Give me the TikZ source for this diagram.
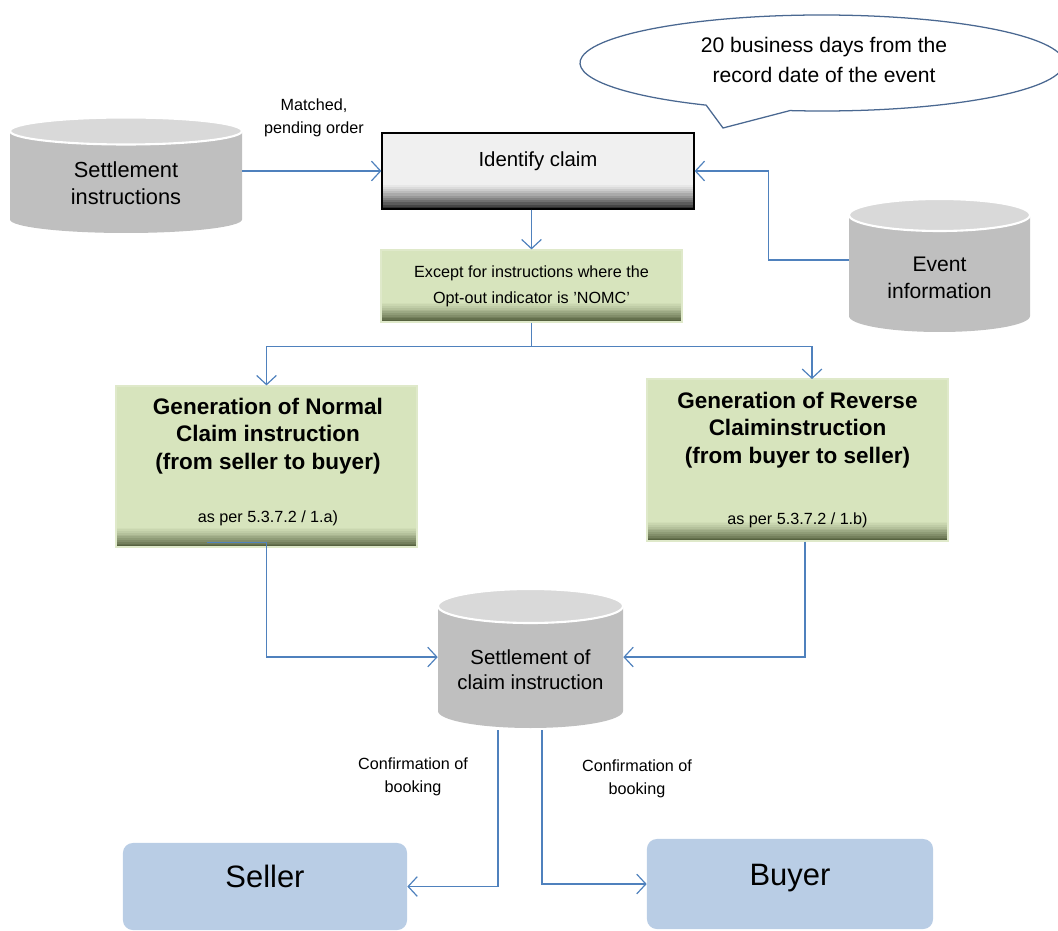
\documentclass[tikz,border=0pt]{standalone}
\usepackage{fontspec}
\setmainfont{Liberation Sans}
\usetikzlibrary{arrows.meta,calc}

\definecolor{flowblue}{HTML}{4F81BD}
\definecolor{drumgray}{HTML}{BFBFBF}
\definecolor{drumlight}{HTML}{D9D9D9}
\definecolor{claimgreen}{HTML}{D7E4BD}
\definecolor{claimdark}{HTML}{56623F}
\definecolor{idgray}{HTML}{F0F0F0}
\definecolor{iddark}{HTML}{2E2E2E}
\definecolor{partyblue}{HTML}{B9CDE5}
\definecolor{bubbleline}{HTML}{4A6891}

% cylinder: centre x, top y, bottom y, x radius, y radius
\newcommand{\drum}[5]{%
  \fill[drumgray] (#1-#4,#2) -- (#1-#4,#3) arc[start angle=180,end angle=0,x radius=#4,y radius=#5] -- (#1+#4,#2) -- cycle;
  \filldraw[fill=drumlight,draw=white,line width=1.5pt] (#1,#2) ellipse[x radius=#4,y radius=#5];
}
% dark band at the foot of a box: light colour, dark colour, band height
\newcommand{\bandshade}[3]{%
  \foreach \k in {0,...,11}{%
    \pgfmathsetmacro\mix{100-100*(\k/11)^1.3}%
    \fill[#1!\mix!#2] ([yshift={#3*(12-\k)/12}]path picture bounding box.south west) rectangle ([yshift={#3*(11-\k)/12-0.3pt}]path picture bounding box.south east);
  }}

\tikzset{
  flow/.style={draw=flowblue,line width=0.85pt,-{Straight Barb[length=6.5pt,width=14pt]}},
  link/.style={draw=flowblue,line width=0.85pt},
  drumtext/.style={inner sep=0pt,minimum height=2.2cm,align=center,font=\fontsize{15.5}{19}\selectfont},
  idbox/.style={fill=idgray,draw=black,line width=0.8pt,minimum width=7.8cm,minimum height=1.9cm,
    text height=10.5pt,text depth=17pt,font=\fontsize{14.5}{17}\selectfont,
    path picture={\bandshade{idgray}{iddark}{19pt}}},
  claimbox/.style={fill=claimgreen,draw=claimgreen!80!white,line width=0.8pt,align=center,
    font=\fontsize{11.5}{18.4}\selectfont,
    path picture={\bandshade{claimgreen}{claimdark}{15pt}}},
  headtext/.style={align=center,inner sep=0pt,font=\fontsize{16}{19.5}\selectfont\bfseries},
  reftext/.style={inner sep=0pt,font=\fontsize{11.5}{14}\selectfont},
  notetext/.style={align=center,inner sep=0pt,font=\fontsize{11.5}{16}\selectfont},
  party/.style={fill=partyblue,rounded corners=7pt,text height=16pt,text depth=14pt,font=\fontsize{22}{26}\selectfont},
  bubble/.style={fill=white,draw=bubbleline,line width=0.9pt},
  bubbletext/.style={align=center,inner sep=0pt,font=\fontsize{15}{21}\selectfont}
}

\begin{document}
\begin{tikzpicture}[x=0.025cm,y=-0.025cm]
\useasboundingbox (0,0) rectangle (1058,931);
\clip (0,0) rectangle (1058,931);

% callout
\draw[bubble] (723,128) -- ($(822,63)+(97.6:242 and 48)$) arc[start angle=97.6,end angle=-241.4,x radius=242,y radius=48] -- cycle;
\node[bubbletext] (note) at (824,60) {20 business days from the\\record date of the event};

% data stores
\drum{126}{131}{219.5}{116}{13.5}
\drum{939.5}{215}{316}{90.5}{16}
\drum{530.5}{606}{711}{92.5}{17}
\node[drumtext,minimum width=5.8cm] (setins) at (126,183) {Settlement\\instructions};
\node[drumtext,minimum width=4.525cm,font=\fontsize{15}{19}\selectfont] (event) at (939.5,278) {Event\\information};
\node[drumtext,minimum width=4.625cm,minimum height=3cm,font=\fontsize{14.5}{17.8}\selectfont] (settle) at (530.5,670) {Settlement of\\claim instruction};

% process boxes
\node[idbox] (identify) at (538,171) {Identify claim};
\node[claimbox,minimum width=7.525cm,minimum height=1.8cm] (except) at (531.5,286) {Except for instructions where the\\Opt-out indicator is 'NOMC'};
\node[claimbox,minimum width=7.525cm,minimum height=4.025cm] (normal) at (266.5,466.5) {};
\node[headtext] (normalhead) at (268,436) {Generation of Normal\\Claim instruction\\(from seller to buyer)};
\node[reftext] (normalref) at (268,518) {as per 5.3.7.2 / 1.a)};
\node[claimbox,minimum width=7.525cm,minimum height=4.05cm] (reverse) at (797.5,460) {};
\node[headtext] (reversehead) at (797.5,430) {Generation of Reverse\\Claiminstruction\\(from buyer to seller)};
\node[reftext] (reverseref) at (797.5,520) {as per 5.3.7.2 / 1.b)};

% parties
\node[party,minimum width=7.1cm,minimum height=2.175cm] (seller) at (265,886.5) {Seller};
\node[party,minimum width=7.15cm,minimum height=2.25cm] (buyer) at (790,884) {Buyer};

% labels
\node[notetext] (matched) at (314,118) {Matched,\\pending order};
\node[notetext] (confseller) at (413,777) {Confirmation of\\booking};
\node[notetext] (confbuyer) at (637,779) {Confirmation of\\booking};

% connectors
\draw[flow] (setins.east |- identify.west) -- (identify.west);
\draw[flow] ([yshift=12.8pt]event.west) -- ++(-80,0) |- (identify.east);
\draw[flow] (identify.south -| except.north) -- (except.north);
\coordinate (split) at ($(except.south)+(0,24)$);
\coordinate (revin) at (812,379);
\draw[link] (except.south) -- (split);
\draw[flow] (split) -| (normal.north);
\draw[flow] (split) -| (revin);
\draw[flow] ([xshift=-42.3pt,yshift=3.5pt]normal.south) -- ([yshift=3.5pt]normal.south) |- ([yshift=9.2pt]settle.west);
\draw[flow] ([xshift=5.3pt]reverse.south) |- ([yshift=9.2pt]settle.east);
\draw[flow] ([xshift=-23.1pt]settle.south) |- (seller.east);
\draw[flow] ([xshift=8.2pt]settle.south) |- (buyer.west);
\end{tikzpicture}
\end{document}
